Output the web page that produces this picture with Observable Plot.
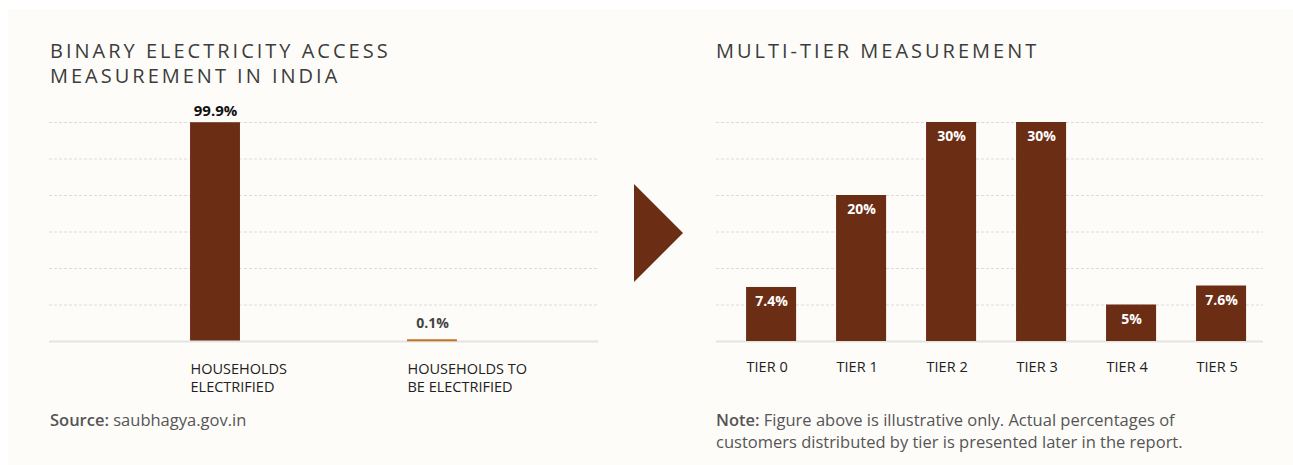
<!DOCTYPE html>
<html><head><meta charset="utf-8">
<script src="https://cdn.jsdelivr.net/npm/d3@7"></script>
<script src="https://cdn.jsdelivr.net/npm/@observablehq/plot@0.6"></script>
<style>
body{margin:0;background:#fff;width:1293px;height:465px;overflow:hidden;font-family:"Open Sans",sans-serif;position:relative;}
#panel{position:absolute;left:8px;top:9px;width:1285px;height:456px;background:#fdfcf9;}
.title{position:absolute;font-size:20px;letter-spacing:3px;color:#3c3c3c;line-height:25px;white-space:nowrap;}
.foot{position:absolute;font-size:16.5px;color:#555;line-height:22px;white-space:nowrap;}
.foot b{font-weight:600;}
.chart{position:absolute;top:100px;}
#arrow{position:absolute;left:634px;top:184px;width:0;height:0;border-left:49px solid #6c2d15;border-top:49px solid transparent;border-bottom:49px solid transparent;}
</style></head>
<body>
<div id="panel"></div>
<div class="title" style="left:50px;top:38px;">BINARY ELECTRICITY ACCESS<br>MEASUREMENT IN INDIA</div>
<div class="title" style="left:716px;top:38px;">MULTI-TIER MEASUREMENT</div>
<div id="left" class="chart" style="left:0px;"></div>
<div id="right" class="chart" style="left:650px;"></div>
<div id="arrow"></div>
<div class="foot" style="left:50px;top:409px;"><b>Source:</b> saubhagya.gov.in</div>
<div class="foot" style="left:716px;top:409px;"><b>Note:</b> Figure above is illustrative only. Actual percentages of<br>customers distributed by tier is presented later in the report.</div>
<script>
const binaryCategories = ["HOUSEHOLDS\nELECTRIFIED", "HOUSEHOLDS TO\nBE ELECTRIFIED"];
const binaryValues = [99.9, 0.1];
const binaryLabels = ["99.9%", "0.1%"];
const binaryGrid = [100/6, 200/6, 300/6, 400/6, 500/6, 100];

const tierCategories = ["TIER 0", "TIER 1", "TIER 2", "TIER 3", "TIER 4", "TIER 5"];
const tierValues = [7.4, 20, 30, 30, 5, 7.6];
const tierLabels = ["7.4%", "20%", "30%", "30%", "5%", "7.6%"];
const tierGrid = [5, 10, 15, 20, 25, 30];

const BAR = "#6c2d15";
const FONT = "Open Sans";

const leftData = binaryCategories.map((c, i) => ({cat: c, value: binaryValues[i], label: binaryLabels[i]}));
const rightData = tierCategories.map((c, i) => ({cat: c, value: tierValues[i], label: tierLabels[i]}));

const left = Plot.plot({
  width: 650, height: 300, marginLeft: 49, marginRight: 52, marginTop: 22, marginBottom: 59,
  style: {background: "transparent", fontFamily: FONT, overflow: "visible"},
  x: {domain: binaryCategories, paddingInner: 0.77, paddingOuter: 0.65, round: false, axis: null},
  y: {domain: [0, 100], axis: null},
  marks: [
    Plot.ruleY(binaryGrid, {stroke: "#dcdcdc", strokeDasharray: "3,2", strokeWidth: 1}),
    Plot.barY(leftData.filter(d => d.value >= 1), {x: "cat", y: "value", fill: BAR}),
    Plot.ruleY([0], {stroke: "#e3e3e3", strokeWidth: 2}),
    Plot.tickY(leftData.filter(d => d.value < 1), {x: "cat", y: "value", stroke: "#c27425", strokeWidth: 2, dy: -1}),
    Plot.text(leftData.filter(d => d.value >= 1), {x: "cat", y: "value", text: "label", dy: -7, lineAnchor: "bottom", fontWeight: "bold", fontSize: 15, fill: "#111", style: "letter-spacing:1.5px"}),
    Plot.text(leftData.filter(d => d.value < 1), {x: "cat", y: "value", text: "label", dy: -13, lineAnchor: "bottom", fontWeight: "bold", fontSize: 14, fill: "#444", style: "letter-spacing:0.5px"}),
    Plot.text(leftData, {x: "cat", text: "cat", frameAnchor: "bottom", lineAnchor: "top", textAnchor: "start", dx: -25, dy: 20, fontSize: 14.5, fill: "#222", lineHeight: 1.25})
  ]
});
document.getElementById("left").append(left);

const right = Plot.plot({
  width: 643, height: 300, marginLeft: 66, marginRight: 30, marginTop: 22, marginBottom: 59,
  style: {background: "transparent", fontFamily: FONT, overflow: "visible"},
  x: {domain: tierCategories, paddingInner: 0.444, paddingOuter: 0.261, align: 0.64, round: false, axis: null},
  y: {domain: [0, 30], axis: null},
  marks: [
    Plot.ruleY(tierGrid, {stroke: "#dcdcdc", strokeDasharray: "3,2", strokeWidth: 1}),
    Plot.ruleY([0], {stroke: "#e3e3e3", strokeWidth: 2}),
    Plot.barY(rightData, {x: "cat", y: "value", fill: BAR}),
    Plot.text(rightData, {x: "cat", y: "value", text: "label", dy: 9, lineAnchor: "top", fontWeight: "bold", fontSize: 14, fill: "#fff"}),
    Plot.text(rightData, {x: "cat", text: "cat", frameAnchor: "bottom", lineAnchor: "top", textAnchor: "start", dx: -25, dy: 20, fontSize: 14.5, fill: "#222"})
  ]
});
document.getElementById("right").append(right);
</script>
</body></html>
